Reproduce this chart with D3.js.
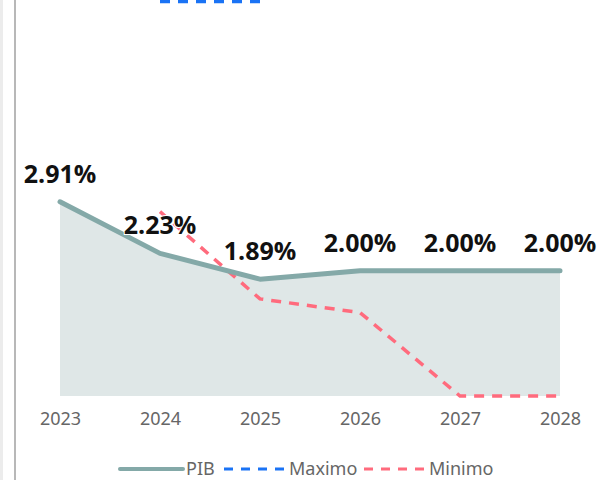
<!DOCTYPE html>
<html>
<head>
<meta charset="utf-8">
<script src="https://cdn.jsdelivr.net/npm/d3@7"></script>
<style>
  body { margin: 0; background: #fff; }
  svg { display: block; }
</style>
</head>
<body>
<svg id="chart" width="601" height="480"></svg>
<script>
// chart data
const years = ["2023", "2024", "2025", "2026", "2027", "2028"];
const pib = [2.91, 2.23, 1.89, 2.00, 2.00, 2.00];
const maximo = [null, 5.55, 5.55, 7.2, 7.6, 7.8];
const minimo = [null, 2.78, 1.63, 1.45, 0.35, 0.35];
const legendNames = ["PIB", "Maximo", "Minimo"];

const colPib = "#84a9a8", colFill = "#dfe7e7", colMax = "#1a73f5", colMin = "#ff6b7d";

const svg = d3.select("#chart");

// panel edge lines on the left
svg.append("rect").attr("x", 0).attr("y", 0).attr("width", 3).attr("height", 480).attr("fill", "#ececec");
svg.append("rect").attr("x", 14).attr("y", 0).attr("width", 2).attr("height", 480).attr("fill", "#b8b8b8");

const x = d3.scalePoint().domain(years).range([60, 560]);
const y = d3.scaleLinear().domain([0.35, 5.57]).range([396, 0]);

const pts = arr => years.map((yr, i) => [yr, arr[i]]).filter(d => d[1] != null);

const area = d3.area()
    .x(d => x(d[0]))
    .y0(y(0.35))
    .y1(d => y(d[1]));

const line = d3.line()
    .x(d => x(d[0]))
    .y(d => y(d[1]));

svg.append("path").datum(pts(pib)).attr("d", area).attr("fill", colFill);

svg.append("path").datum(pts(minimo)).attr("d", line)
    .attr("fill", "none").attr("stroke", colMin).attr("stroke-width", 3.5)
    .attr("stroke-dasharray", "10,8");

svg.append("path").datum(pts(maximo)).attr("d", line)
    .attr("fill", "none").attr("stroke", colMax).attr("stroke-width", 3.5)
    .attr("stroke-dasharray", "10,8");

svg.append("path").datum(pts(pib)).attr("d", line)
    .attr("fill", "none").attr("stroke", colPib).attr("stroke-width", 5)
    .attr("stroke-linecap", "round").attr("stroke-linejoin", "round");

// data labels
svg.selectAll(".lbl").data(pts(pib)).join("text")
    .attr("class", "lbl")
    .attr("x", d => x(d[0]))
    .attr("y", d => y(d[1]) - 19)
    .attr("text-anchor", "middle")
    .attr("font-family", "'Open Sans', sans-serif")
    .attr("font-weight", "bold")
    .attr("font-size", 25)
    .attr("fill", "#111")
    .attr("stroke", "#fff").attr("stroke-width", 2).attr("paint-order", "stroke")
    .text(d => d[1].toFixed(2) + "%");

// x axis
const xAxis = svg.append("g")
    .attr("transform", "translate(0,396)")
    .call(d3.axisBottom(x).tickSize(0).tickPadding(16));
xAxis.select(".domain").remove();
xAxis.selectAll("text")
    .attr("font-family", "'Noto Sans', sans-serif")
    .attr("font-size", 18)
    .attr("fill", "#666");

// legend
const leg = svg.append("g").attr("font-family", "'Noto Sans', sans-serif").attr("font-size", 18).attr("fill", "#666");
const legItems = [
  { x0: 120, x1: 183, tx: 186, color: colPib, dash: null, w: 4 },
  { x0: 224, x1: 284, tx: 289, color: colMax, dash: "9,8", w: 3 },
  { x0: 364, x1: 424, tx: 429, color: colMin, dash: "9,8", w: 3 }
];
legItems.forEach((it, i) => {
  const l = leg.append("line")
      .attr("x1", it.x0).attr("x2", it.x1).attr("y1", 469).attr("y2", 469)
      .attr("stroke", it.color).attr("stroke-width", it.w);
  if (it.dash) l.attr("stroke-dasharray", it.dash);
  else l.attr("stroke-linecap", "round");
  leg.append("text").attr("x", it.tx).attr("y", 475).text(legendNames[i]);
});
</script>
</body>
</html>
